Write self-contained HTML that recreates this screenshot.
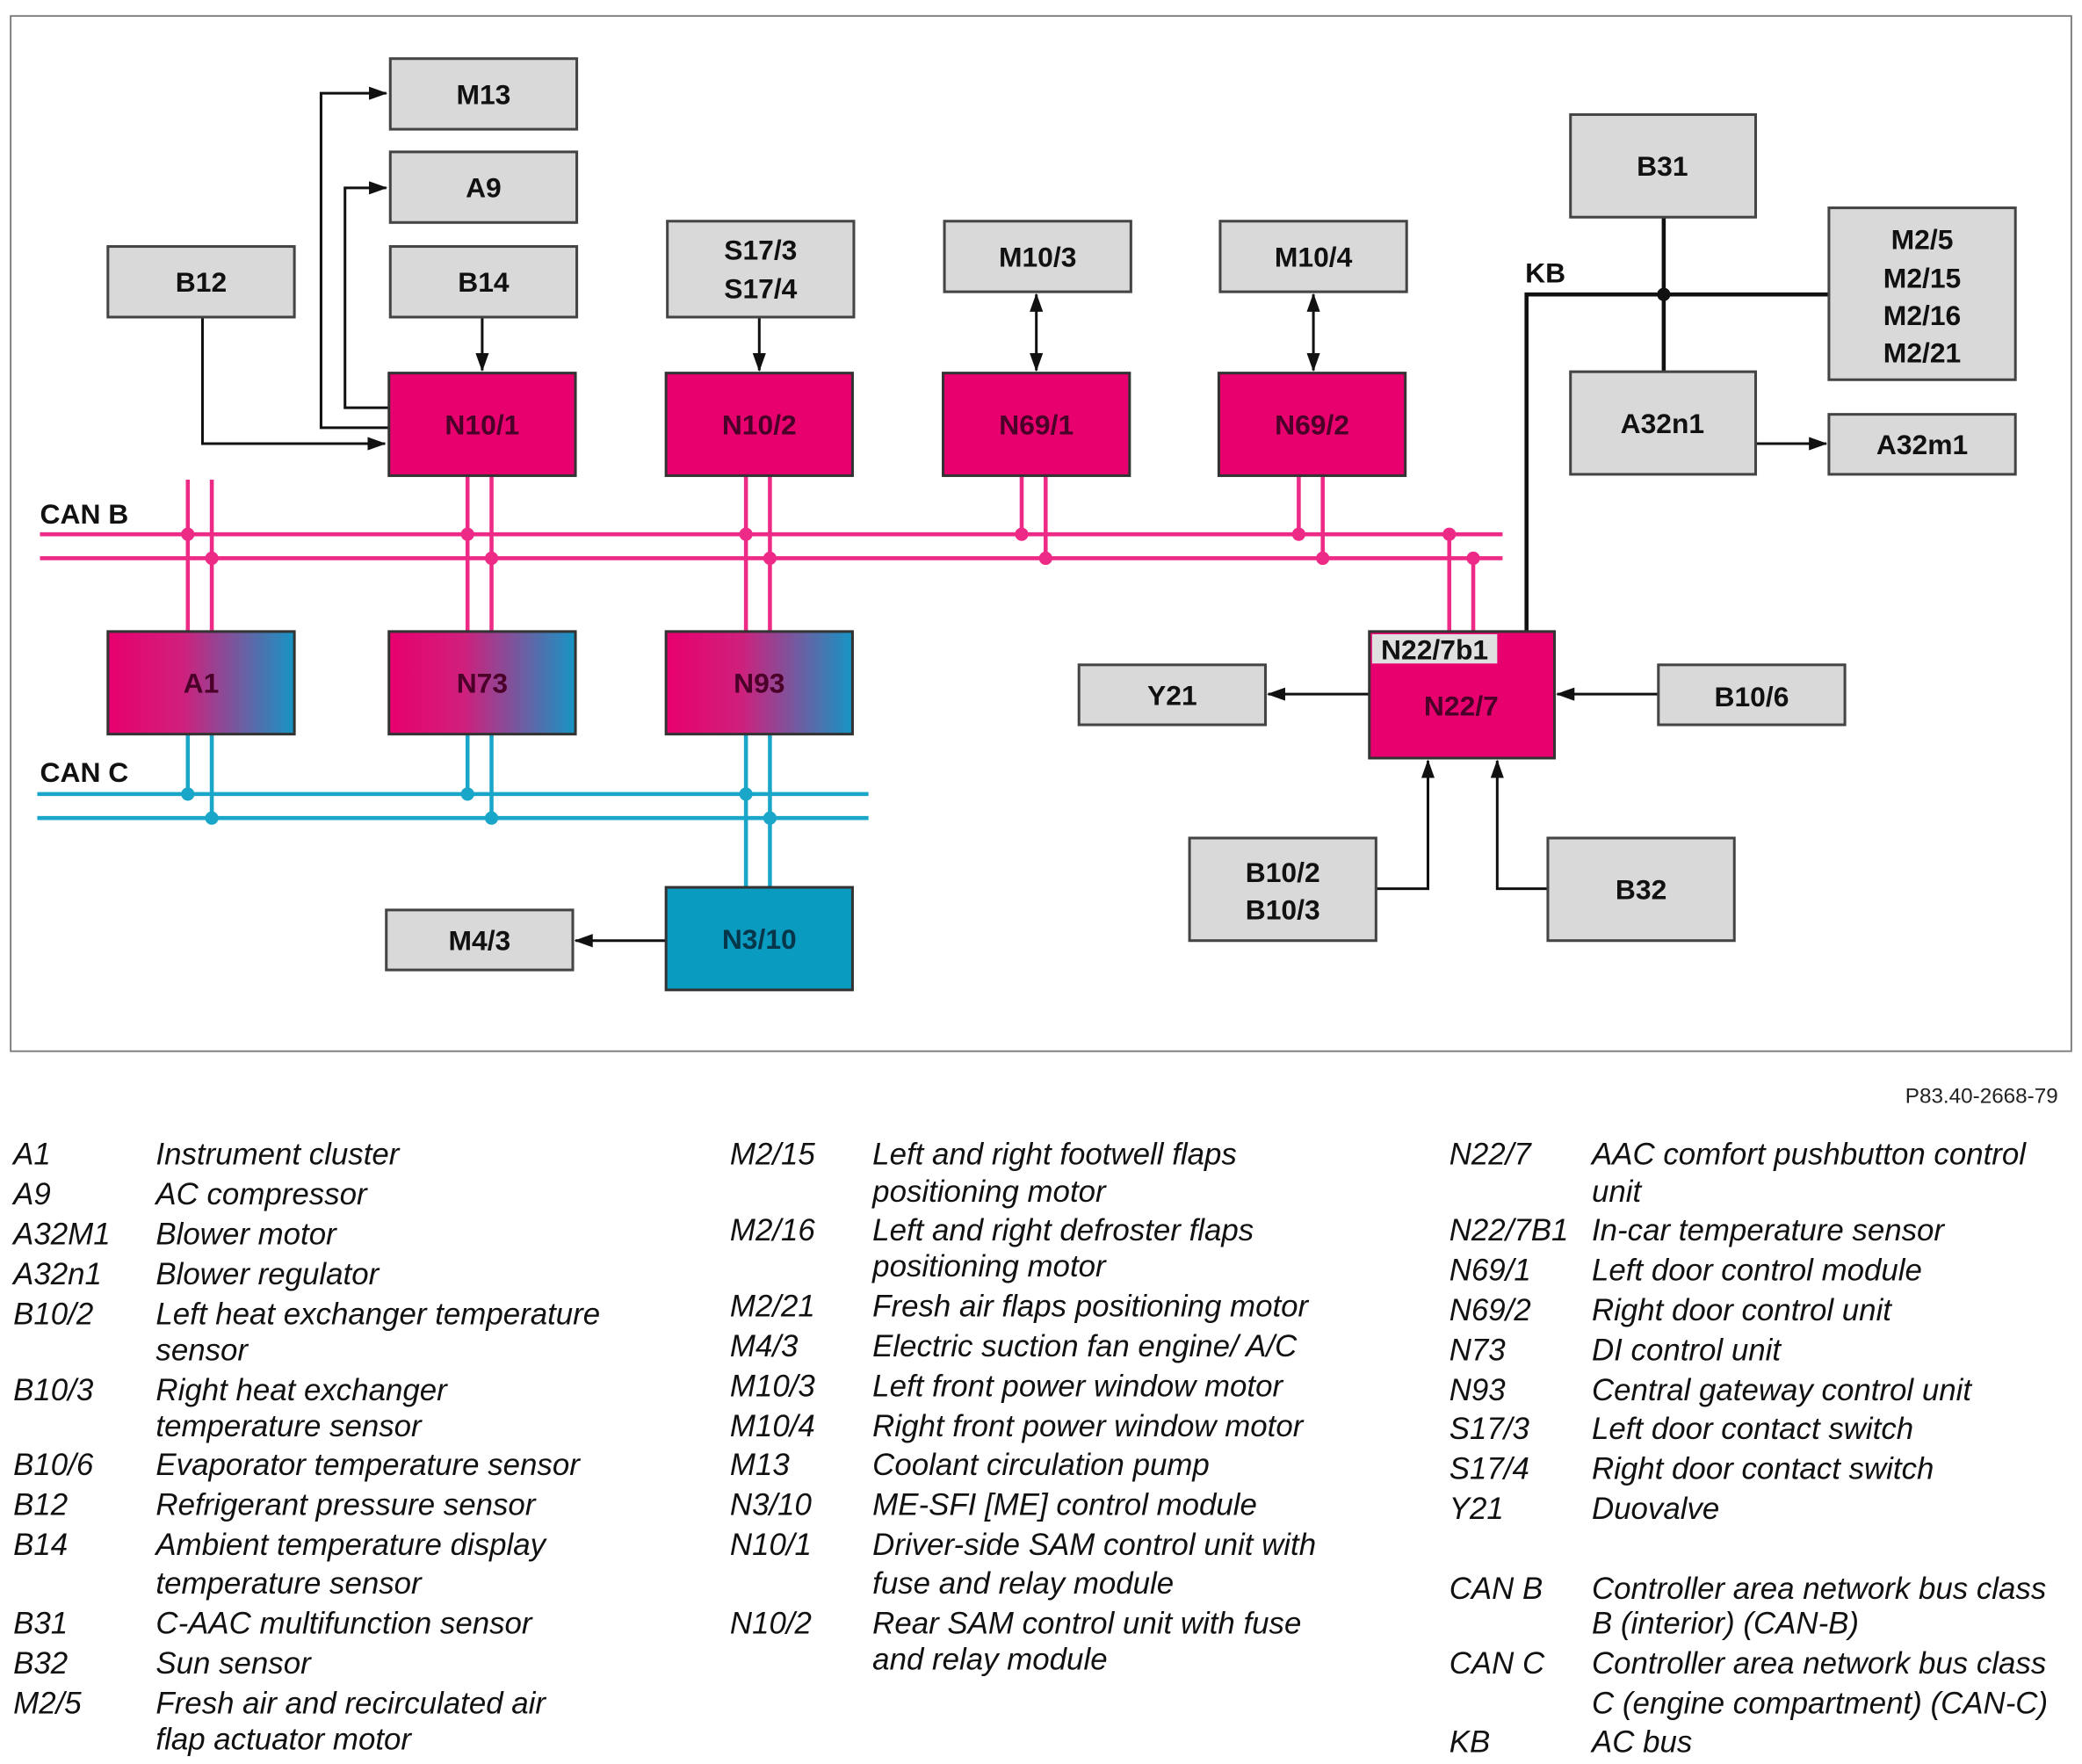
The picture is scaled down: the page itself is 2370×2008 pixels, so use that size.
<!DOCTYPE html>
<html><head><meta charset="utf-8"><style>
html,body{margin:0;padding:0;background:#fff;}
svg{display:block;}
.b{font-family:"Liberation Sans",sans-serif;font-weight:bold;font-size:21px;text-anchor:middle;fill:#111;}
.l{font-family:"Liberation Sans",sans-serif;font-style:italic;font-size:23px;fill:#111;}
</style></head><body>
<svg width="2370" height="2008" viewBox="0 0 1563 1324" preserveAspectRatio="none" xmlns="http://www.w3.org/2000/svg">
<defs>
<linearGradient id="g" x1="0" y1="0" x2="1" y2="0">
<stop offset="0" stop-color="#e8006e"/><stop offset="0.4" stop-color="#d01f7c"/><stop offset="1" stop-color="#1595c4"/>
</linearGradient>
<marker id="a" markerWidth="14" markerHeight="10" refX="13" refY="5" orient="auto" markerUnits="userSpaceOnUse"><path d="M0,0 L14,5 L0,10 Z" fill="#111"/></marker>
<marker id="as" markerWidth="14" markerHeight="10" refX="1" refY="5" orient="auto" markerUnits="userSpaceOnUse"><path d="M14,0 L0,5 L14,10 Z" fill="#111"/></marker>
</defs>
<rect x="8" y="12" width="1547" height="777" fill="#fff" stroke="#777" stroke-width="1.2"/>

<g stroke="#111" stroke-width="2" fill="none">
<path d="M152,238 V333 H289" marker-end="url(#a)"/>
<path d="M292,321 H241 V70 H290" marker-end="url(#a)"/>
<path d="M292,306 H259 V141 H290" marker-end="url(#a)"/>
<path d="M362,238 V278" marker-end="url(#a)"/>
<path d="M570,238 V278" marker-end="url(#a)"/>
<path d="M778,221 V278" marker-start="url(#as)" marker-end="url(#a)"/>
<path d="M986,221 V278" marker-start="url(#as)" marker-end="url(#a)"/>
<path d="M1318,333 H1371" marker-end="url(#a)"/>
<path d="M500,706 H432" marker-end="url(#a)"/>
<path d="M1028,521 H952" marker-end="url(#a)"/>
<path d="M1245,521 H1169" marker-end="url(#a)"/>
<path d="M1033,667 H1072 V571" marker-end="url(#a)"/>
<path d="M1162,667 H1124 V571" marker-end="url(#a)"/>
</g>
<g stroke="#111" stroke-width="3" fill="none">
<path d="M1146,474 V221 H1373"/>
<path d="M1249,163 V279"/>
</g>
<circle cx="1249" cy="221" r="5" fill="#111"/>
<text x="1145" y="212" class="b" style="text-anchor:start">KB</text>

<g stroke="#ee2a87" stroke-width="3" fill="none">
<path d="M30,401 H1128 M30,419 H1128"/>
<path d="M141,360 V474 M159,360 V474 M351,357 V474 M369,357 V474 M560,357 V474 M578,357 V474 M767,357 V401 M785,357 V419 M975,357 V401 M993,357 V419 M1088,401 V474 M1106,419 V474"/>
</g>
<g fill="#ee2a87">
<circle cx="141" cy="401" r="5"/><circle cx="159" cy="419" r="5"/>
<circle cx="351" cy="401" r="5"/><circle cx="369" cy="419" r="5"/>
<circle cx="560" cy="401" r="5"/><circle cx="578" cy="419" r="5"/>
<circle cx="767" cy="401" r="5"/><circle cx="785" cy="419" r="5"/>
<circle cx="975" cy="401" r="5"/><circle cx="993" cy="419" r="5"/>
<circle cx="1088" cy="401" r="5"/><circle cx="1106" cy="419" r="5"/>
</g>
<text x="30" y="393" class="b" style="text-anchor:start">CAN B</text>
<g stroke="#1aa6c9" stroke-width="3" fill="none">
<path d="M28,596 H652 M28,614 H652"/>
<path d="M141,551 V596 M159,551 V614 M351,551 V596 M369,551 V614 M560,551 V666 M578,551 V666"/>
</g>
<g fill="#1aa6c9">
<circle cx="141" cy="596" r="5"/><circle cx="159" cy="614" r="5"/>
<circle cx="351" cy="596" r="5"/><circle cx="369" cy="614" r="5"/>
<circle cx="560" cy="596" r="5"/><circle cx="578" cy="614" r="5"/>
</g>
<text x="30" y="587" class="b" style="text-anchor:start">CAN C</text>

<g fill="#d9d9d9" stroke="#444" stroke-width="2">
<rect x="293" y="44" width="140" height="53"/>
<rect x="293" y="114" width="140" height="53"/>
<rect x="293" y="185" width="140" height="53"/>
<rect x="81" y="185" width="140" height="53"/>
<rect x="501" y="166" width="140" height="72"/>
<rect x="709" y="166" width="140" height="53"/>
<rect x="916" y="166" width="140" height="53"/>
<rect x="1179" y="86" width="139" height="77"/>
<rect x="1373" y="156" width="140" height="129"/>
<rect x="1179" y="279" width="139" height="77"/>
<rect x="1373" y="311" width="140" height="45"/>
<rect x="290" y="683" width="140" height="45"/>
<rect x="810" y="499" width="140" height="45"/>
<rect x="1245" y="499" width="140" height="45"/>
<rect x="893" y="629" width="140" height="77"/>
<rect x="1162" y="629" width="140" height="77"/>
</g>
<g stroke="#333" stroke-width="2">
<rect x="292" y="280" width="140" height="77" fill="#e8006e"/>
<rect x="500" y="280" width="140" height="77" fill="#e8006e"/>
<rect x="708" y="280" width="140" height="77" fill="#e8006e"/>
<rect x="915" y="280" width="140" height="77" fill="#e8006e"/>
<rect x="81" y="474" width="140" height="77" fill="url(#g)"/>
<rect x="292" y="474" width="140" height="77" fill="url(#g)"/>
<rect x="500" y="474" width="140" height="77" fill="url(#g)"/>
<rect x="500" y="666" width="140" height="77" fill="#0a9bc0"/>
<rect x="1028" y="474" width="139" height="95" fill="#e8006e"/>
</g>
<rect x="1030" y="476" width="94" height="22" fill="#e0e0e0"/>

<g class="b">
<text x="363" y="78">M13</text>
<text x="363" y="148">A9</text>
<text x="363" y="219">B14</text>
<text x="151" y="219">B12</text>
<text x="571" y="195">S17/3</text>
<text x="571" y="224">S17/4</text>
<text x="779" y="200">M10/3</text>
<text x="986" y="200">M10/4</text>
<text x="1248" y="132">B31</text>
<text x="1443" y="187">M2/5</text>
<text x="1443" y="216">M2/15</text>
<text x="1443" y="244">M2/16</text>
<text x="1443" y="272">M2/21</text>
<text x="1248" y="325">A32n1</text>
<text x="1443" y="341">A32m1</text>
<text x="360" y="713">M4/3</text>
<text x="880" y="529">Y21</text>
<text x="1315" y="530">B10/6</text>
<text x="963" y="662">B10/2</text>
<text x="963" y="690">B10/3</text>
<text x="1232" y="675">B32</text>
<text x="1077" y="495">N22/7b1</text>
</g>
<g class="b" style="fill:#4a0028">
<text x="362" y="326">N10/1</text>
<text x="570" y="326">N10/2</text>
<text x="778" y="326">N69/1</text>
<text x="985" y="326">N69/2</text>
<text x="151" y="520">A1</text>
<text x="362" y="520">N73</text>
<text x="570" y="520">N93</text>
<text x="1097" y="537">N22/7</text>
</g>
<text x="570" y="712" class="b" style="fill:#06364a">N3/10</text>

<text x="1545" y="828" style="font-family:'Liberation Sans',sans-serif;font-size:16px;text-anchor:end;fill:#222">P83.40-2668-79</text>

<g class="l">
<text x="10" y="874">A1</text><text x="117" y="874">Instrument cluster</text>
<text x="10" y="904">A9</text><text x="117" y="904">AC compressor</text>
<text x="10" y="934">A32M1</text><text x="117" y="934">Blower motor</text>
<text x="10" y="964">A32n1</text><text x="117" y="964">Blower regulator</text>
<text x="10" y="994">B10/2</text><text x="117" y="994">Left heat exchanger temperature</text>
<text x="117" y="1021">sensor</text>
<text x="10" y="1051">B10/3</text><text x="117" y="1051">Right heat exchanger</text>
<text x="117" y="1078">temperature sensor</text>
<text x="10" y="1107">B10/6</text><text x="117" y="1107">Evaporator temperature sensor</text>
<text x="10" y="1137">B12</text><text x="117" y="1137">Refrigerant pressure sensor</text>
<text x="10" y="1167">B14</text><text x="117" y="1167">Ambient temperature display</text>
<text x="117" y="1196">temperature sensor</text>
<text x="10" y="1226">B31</text><text x="117" y="1226">C-AAC multifunction sensor</text>
<text x="10" y="1256">B32</text><text x="117" y="1256">Sun sensor</text>
<text x="10" y="1286">M2/5</text><text x="117" y="1286">Fresh air and recirculated air</text>
<text x="117" y="1313">flap actuator motor</text>

<text x="548" y="874">M2/15</text><text x="655" y="874">Left and right footwell flaps</text>
<text x="655" y="902">positioning motor</text>
<text x="548" y="931">M2/16</text><text x="655" y="931">Left and right defroster flaps</text>
<text x="655" y="958">positioning motor</text>
<text x="548" y="988">M2/21</text><text x="655" y="988">Fresh air flaps positioning motor</text>
<text x="548" y="1018">M4/3</text><text x="655" y="1018">Electric suction fan engine/ A/C</text>
<text x="548" y="1048">M10/3</text><text x="655" y="1048">Left front power window motor</text>
<text x="548" y="1078">M10/4</text><text x="655" y="1078">Right front power window motor</text>
<text x="548" y="1107">M13</text><text x="655" y="1107">Coolant circulation pump</text>
<text x="548" y="1137">N3/10</text><text x="655" y="1137">ME-SFI [ME] control module</text>
<text x="548" y="1167">N10/1</text><text x="655" y="1167">Driver-side SAM control unit with</text>
<text x="655" y="1196">fuse and relay module</text>
<text x="548" y="1226">N10/2</text><text x="655" y="1226">Rear SAM control unit with fuse</text>
<text x="655" y="1253">and relay module</text>

<text x="1088" y="874">N22/7</text><text x="1195" y="874">AAC comfort pushbutton control</text>
<text x="1195" y="902">unit</text>
<text x="1088" y="931">N22/7B1</text><text x="1195" y="931">In-car temperature sensor</text>
<text x="1088" y="961">N69/1</text><text x="1195" y="961">Left door control module</text>
<text x="1088" y="991">N69/2</text><text x="1195" y="991">Right door control unit</text>
<text x="1088" y="1021">N73</text><text x="1195" y="1021">DI control unit</text>
<text x="1088" y="1051">N93</text><text x="1195" y="1051">Central gateway control unit</text>
<text x="1088" y="1080">S17/3</text><text x="1195" y="1080">Left door contact switch</text>
<text x="1088" y="1110">S17/4</text><text x="1195" y="1110">Right door contact switch</text>
<text x="1088" y="1140">Y21</text><text x="1195" y="1140">Duovalve</text>
<text x="1088" y="1200">CAN B</text><text x="1195" y="1200">Controller area network bus class</text>
<text x="1195" y="1226">B (interior) (CAN-B)</text>
<text x="1088" y="1256">CAN C</text><text x="1195" y="1256">Controller area network bus class</text>
<text x="1195" y="1286">C (engine compartment) (CAN-C)</text>
<text x="1088" y="1315">KB</text><text x="1195" y="1315">AC bus</text>
</g>
</svg>
</body></html>
